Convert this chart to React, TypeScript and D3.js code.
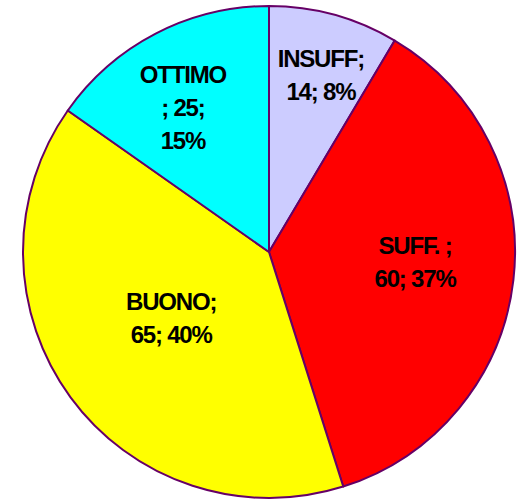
import { useEffect } from "react";
import * as d3 from "d3";

const categories = ["INSUFF", "SUFF.", "BUONO", "OTTIMO"];
const values = [14, 60, 65, 25];
const colors = ["#ccccff", "#ff0000", "#ffff00", "#00ffff"];
const labelLines = [
  ["INSUFF;", "14; 8%"],
  ["SUFF. ;", "60; 37%"],
  ["BUONO;", "65; 40%"],
  ["OTTIMO", "; 25;", "15%"],
];
// label placement: distance from the centre (share of radius) and angle nudge (degrees)
const labelRadius = [0.748, 0.595, 0.48, 0.685];
const labelShift = [1, -2.7, 2.2, -3.3];

export default function App() {
  useEffect(() => {
    document.body.style.margin = "0";
  }, []);

  const width = 517;
  const height = 500;
  const cx = 269;
  const cy = 252;
  const radius = 246;
  const lineHeight = 33;

  const pie = d3
    .pie<number>()
    .sort(null)
    .value((d) => d);
  const arcs = pie(values);
  const arc = d3.arc<d3.PieArcDatum<number>>().innerRadius(0).outerRadius(radius);

  return (
    <svg width={width} height={height} style={{ display: "block" }}>
      <g transform={`translate(${cx},${cy})`}>
        {arcs.map((a, i) => (
          <path
            key={categories[i]}
            d={arc(a) || ""}
            fill={colors[i]}
            stroke="#660066"
            strokeWidth={2}
            strokeLinejoin="round"
          />
        ))}
        {arcs.map((a, i) => {
          const mid = (a.startAngle + a.endAngle) / 2 + (labelShift[i] * Math.PI) / 180;
          const r = radius * labelRadius[i];
          const x = Math.sin(mid) * r;
          const y = -Math.cos(mid) * r;
          const lines = labelLines[i];
          return (
            <text
              key={"l" + i}
              x={x}
              y={y}
              textAnchor="middle"
              fontFamily="'Liberation Sans', Arial, sans-serif"
              fontWeight="bold"
              fontSize={24}
              letterSpacing={-1.2}
              fill="#000"
            >
              {lines.map((t, j) => (
                <tspan
                  key={j}
                  x={x}
                  y={y + (j - (lines.length - 1) / 2) * lineHeight + 8.5}
                >
                  {t}
                </tspan>
              ))}
            </text>
          );
        })}
      </g>
    </svg>
  );
}
